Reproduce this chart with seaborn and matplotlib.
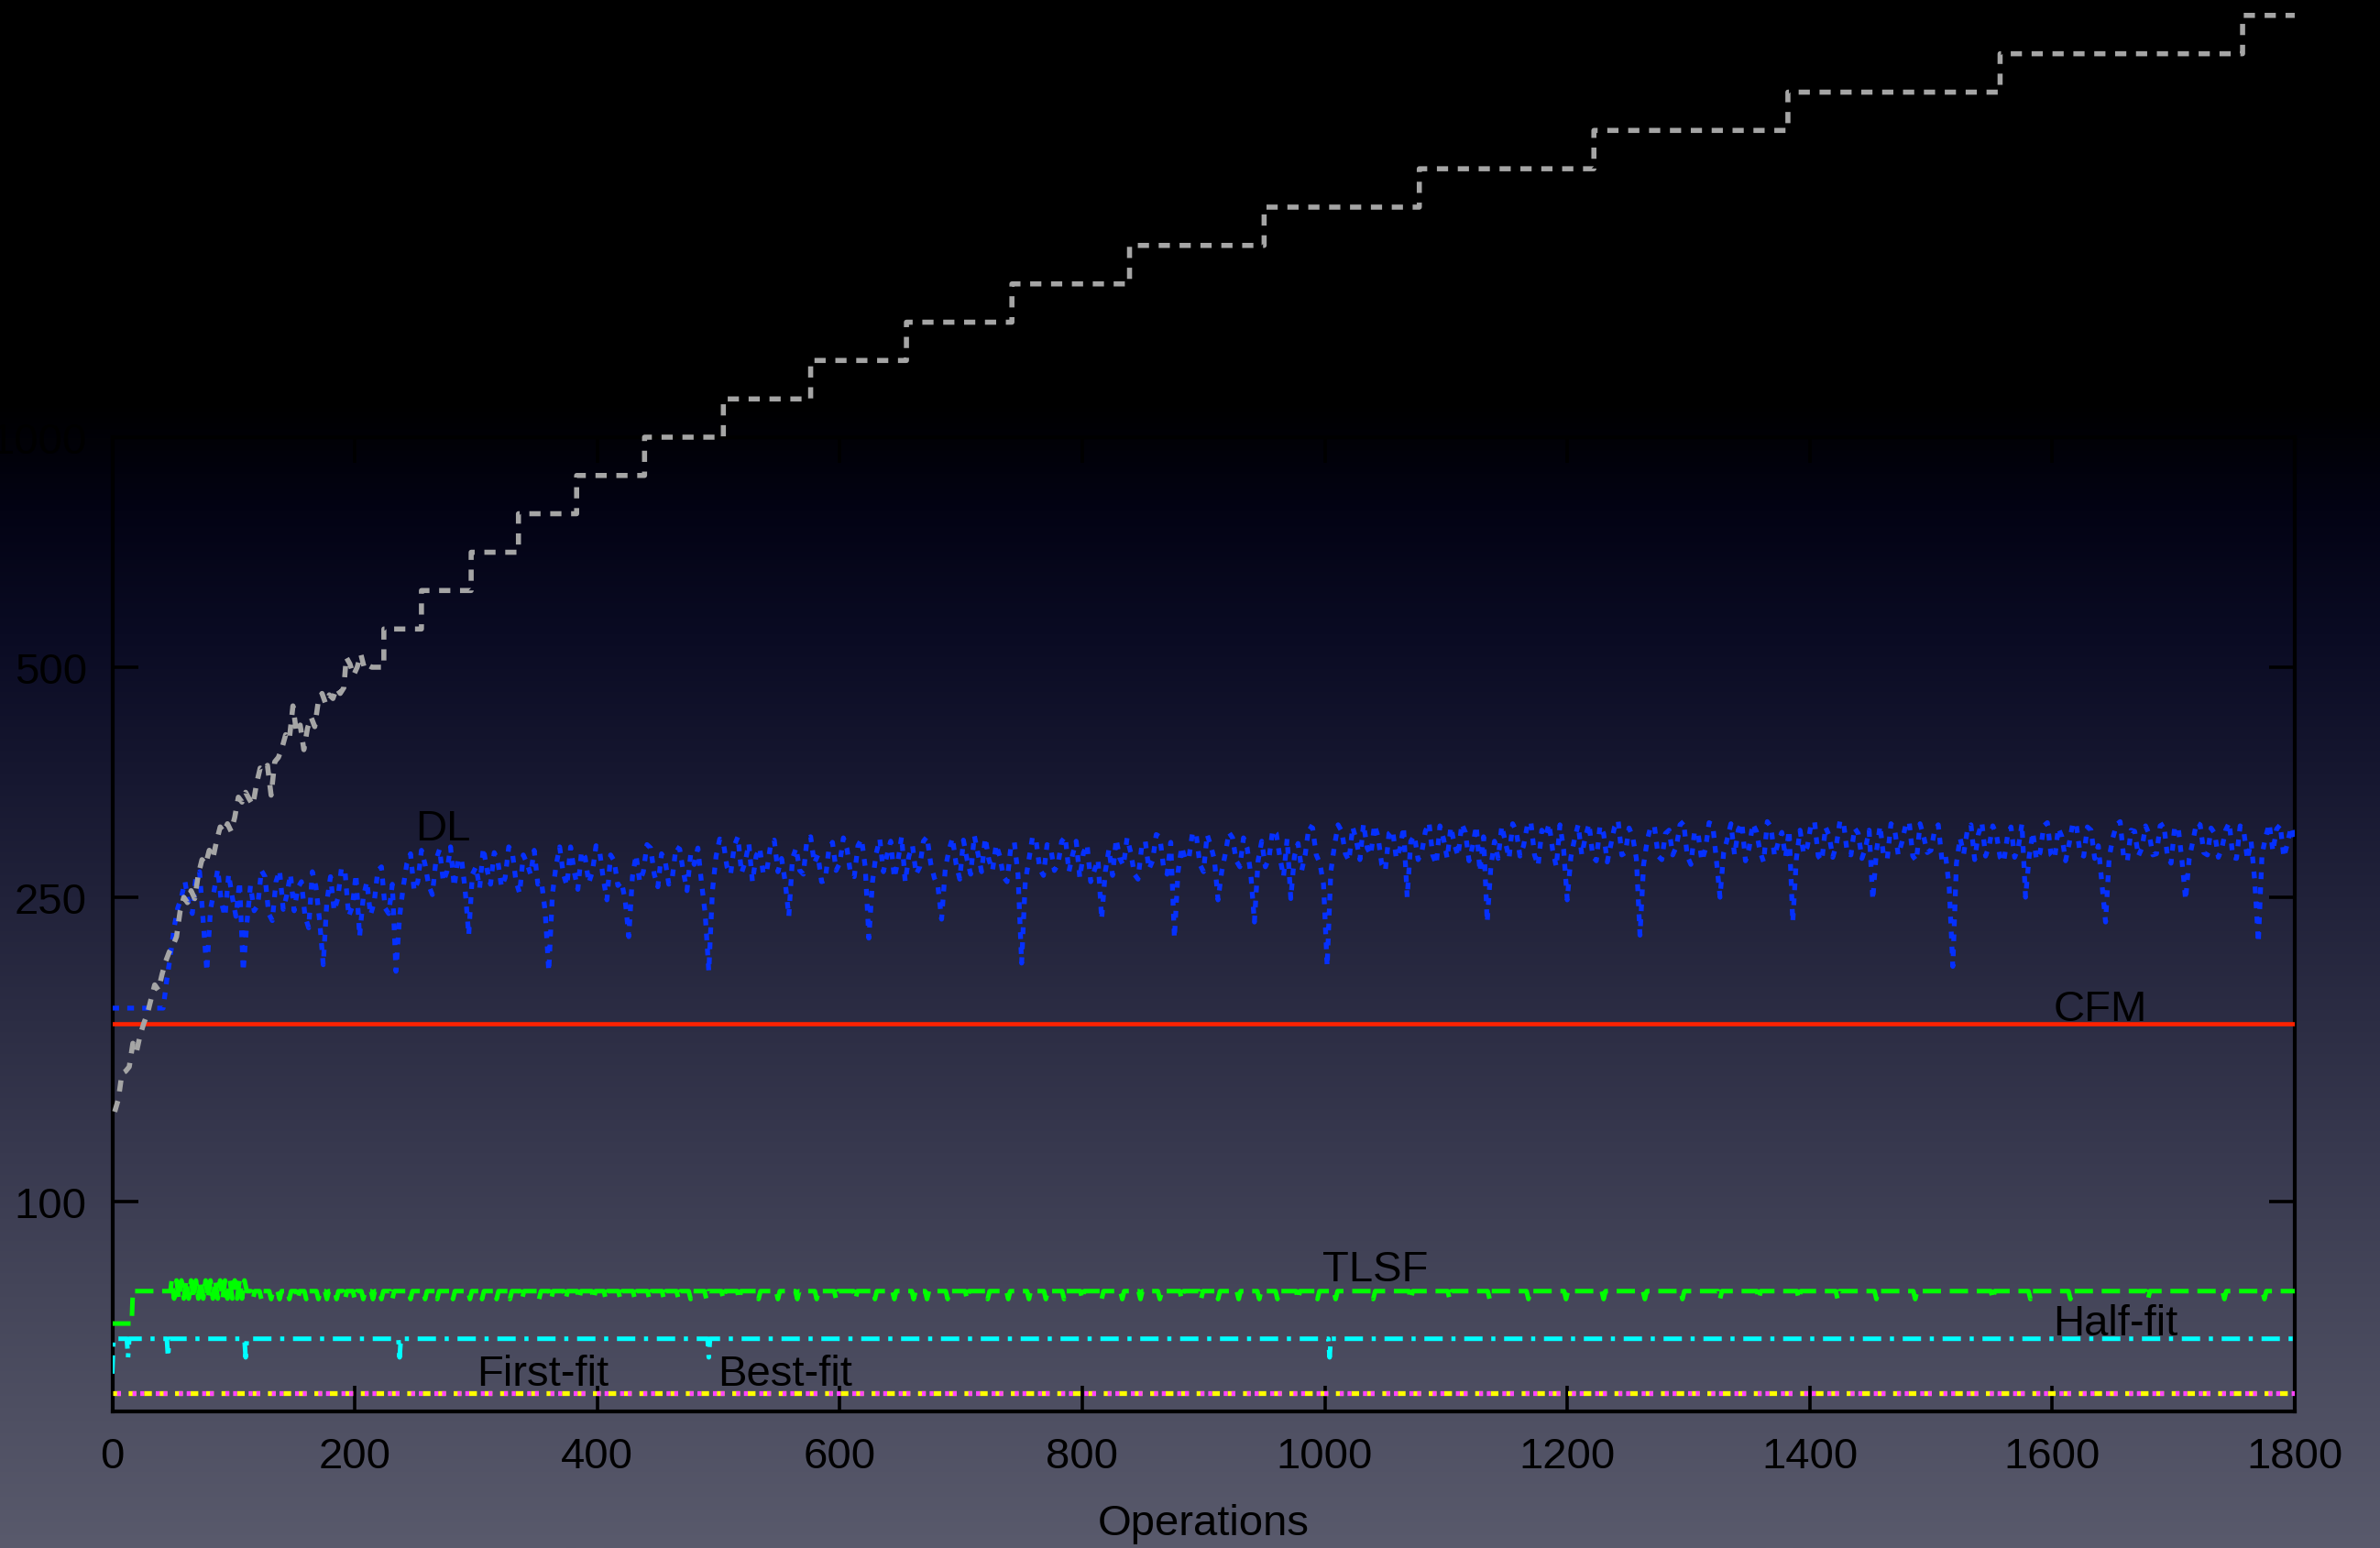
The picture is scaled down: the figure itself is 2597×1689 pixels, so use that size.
import numpy as np
import pandas as pd
import matplotlib
matplotlib.use("Agg")
import matplotlib.pyplot as plt
import seaborn as sns
from matplotlib.ticker import FixedLocator, FixedFormatter, NullLocator

# ---------------- data ----------------
x_ticks = [0, 200, 400, 600, 800, 1000, 1200, 1400, 1600, 1800]
y_ticks = [100, 250, 500, 1000]
y_tick_labels = ["100", "250", "500", "1000"]

# unlabelled grey series: noisy start, then a staircase
gray_early_ops = [2, 5, 8, 11, 14, 17, 20, 23, 26, 29, 32, 35, 38, 41, 44, 47, 50, 53, 56, 59,
                  62, 65, 68, 71, 74, 77, 80, 83, 86, 89, 92, 95, 98, 101, 104, 107, 110, 113,
                  116, 119, 122, 125, 128, 131, 134, 137, 140, 143, 146, 149, 152, 155, 158,
                  161, 164, 167, 170, 173, 176, 179, 182, 185, 188, 191, 193, 196, 199, 202,
                  205, 208, 211, 214]
gray_early_vals = [131, 136, 147, 148, 150, 161, 157, 165, 171, 176, 184, 192, 189, 198, 206, 212,
                   216, 222, 240, 250, 246, 255, 249, 268, 280, 276, 288, 281, 296, 309, 304, 312,
                   305, 318, 338, 333, 343, 336, 330, 352, 369, 366, 372, 340, 376, 381, 392, 408,
                   402, 445, 410, 420, 390, 416, 430, 418, 452, 462, 448, 460, 455, 470, 462, 470,
                   515, 505, 488, 500, 520, 498, 503, 500]
gray_step_ops = [224, 255, 296, 335, 383, 439, 504, 576, 655, 742, 839, 950, 1078, 1222, 1382,
                 1557, 1757]
gray_levels = [500, 561, 630, 707, 794, 891, 1000, 1122, 1260, 1414, 1587, 1782, 2000, 2245,
               2520, 2828, 3175, 3564]
gray_end_op = 1800

# DL (blue): values at operations 0, 6, 12, ... 1800
dl_step = 6
dl_vals = [
    179, 179, 179, 179, 179, 179, 179, 179, 210, 242,
    262, 238, 270, 200, 255, 246, 268, 236, 200, 259,
    244, 266, 233, 271, 252, 240, 262, 228, 258, 204,
    266, 249, 270, 243, 222, 262, 246, 274, 238, 200,
    258, 285, 262, 276, 252, 289, 270, 258, 281, 223,
    274, 290, 260, 279, 265, 286, 253, 277, 288, 262,
    200, 275, 268, 291, 256, 282, 270, 287, 248, 279,
    262, 222, 284, 270, 290, 258, 279, 266, 289, 255,
    276, 261, 200, 283, 295, 268, 300, 278, 262, 290,
    272, 297, 281, 236, 290, 268, 300, 284, 263, 295,
    277, 289, 266, 298, 221, 285, 270, 296, 279, 262,
    292, 274, 300, 265, 234, 288, 276, 297, 268, 285,
    299, 271, 283, 262, 295, 205, 280, 296, 267, 290,
    276, 300, 284, 265, 293, 271, 234, 289, 298, 275,
    286, 264, 296, 279, 300, 268, 221, 291, 282, 302,
    270, 292, 248, 285, 299, 274, 290, 232, 296, 281,
    303, 266, 249, 294, 285, 308, 277, 203, 292, 305,
    279, 297, 312, 284, 300, 271, 306, 289, 250, 301,
    286, 313, 276, 298, 309, 283, 304, 292, 270, 232,
    296, 310, 281, 305, 292, 314, 275, 300, 288, 311,
    248, 298, 284, 312, 279, 303, 293, 315, 286, 300,
    223, 297, 309, 280, 306, 291, 314, 276, 302, 289,
    311, 250, 298, 284, 313, 290, 305, 278, 309, 295,
    282, 232, 306, 291, 314, 279, 301, 293, 312, 284,
    303, 290, 248, 310, 281, 307, 295, 314, 279, 300,
    288, 311, 284, 203, 299, 306, 280, 313, 292, 302,
    278, 309, 290, 250, 304, 286, 313, 281, 300, 294,
    310, 283, 306, 292, 232, 299, 314, 279, 305, 290,
    302, 285, 312, 277, 308, 248, 296, 311, 284, 303,
    290, 313, 281, 305, 296, 218, 300, 287, 311, 294,
    298]
# DL (blue): values at operations 3, 9, 15, ... 1797
dl_mid_vals = [
    179, 179, 179, 179, 179, 179, 179, 195, 228, 250,
    245, 266, 232, 241, 272, 236, 250, 262, 231, 240,
    271, 238, 262, 241, 268, 257, 236, 270, 233, 247,
    240, 273, 236, 268, 250, 237, 271, 242, 260, 236,
    277, 255, 288, 259, 280, 262, 291, 279, 256, 268,
    257, 272, 286, 258, 291, 262, 284, 268, 260, 240,
    252, 291, 259, 270, 287, 261, 292, 264, 284, 259,
    248, 266, 262, 293, 268, 285, 260, 291, 270, 284,
    290, 238, 255, 298, 274, 292, 269, 294, 283, 268,
    293, 270, 262, 281, 271, 298, 277, 262, 289, 271,
    299, 268, 292, 274, 262, 298, 284, 265, 300, 283,
    268, 296, 277, 258, 272, 299, 264, 280, 301, 270,
    280, 293, 266, 290, 268, 262, 300, 272, 293, 271,
    296, 270, 296, 286, 262, 280, 270, 267, 281, 299,
    268, 291, 272, 302, 274, 295, 270, 280, 304, 276,
    302, 280, 270, 304, 279, 299, 268, 279, 274, 306,
    282, 298, 283, 271, 310, 284, 260, 270, 311, 285,
    309, 280, 290, 311, 276, 303, 281, 309, 296, 280,
    305, 284, 310, 281, 293, 312, 279, 310, 300, 274,
    281, 295, 312, 283, 310, 284, 306, 312, 274, 289,
    282, 311, 300, 283, 310, 278, 309, 284, 308, 281,
    276, 310, 283, 303, 284, 311, 283, 305, 279, 313,
    280, 286, 312, 306, 279, 312, 287, 314, 283, 304,
    306, 281, 285, 311, 283, 309, 282, 315, 285, 308,
    281, 306, 287, 282, 312, 284, 310, 283, 312, 286,
    306, 280, 258, 277, 285, 311, 302, 283, 310, 282,
    300, 282, 312, 283, 280, 310, 284, 308, 279, 313,
    285, 309, 281, 260, 282, 311, 281, 306, 283, 310,
    284, 310, 283, 309, 279, 281, 313, 286, 308, 282,
    306, 282, 310, 280, 263, 284, 312, 307, 282, 309]

# CFM (red), constant
cfm_ops = [0, 1800]
cfm_vals = [171, 171]

# TLSF (green)
tlsf_start_ops = [0, 16, 17, 48]
tlsf_start_vals = [69.2, 69.2, 76.3, 76.3]
tlsf_osc_ops = [49, 51, 53, 55, 57, 59, 61, 63, 65, 67, 69, 71, 73, 75, 77, 79, 81, 83, 85, 87,
                89, 91, 93, 95, 97, 99, 101, 103, 105, 107, 109, 111]
tlsf_osc_vals = [78.8, 74.6, 78.8, 74.6, 78.8, 74.6, 78.8, 74.6, 78.8, 74.6, 78.8, 74.6, 78.8,
                 74.6, 78.8, 74.6, 78.8, 74.6, 78.8, 74.6, 78.8, 74.6, 78.8, 74.6, 78.8, 74.6,
                 78.8, 74.6, 78.8, 74.6, 78.8, 76.3]
tlsf_level = 76.3
tlsf_dip_level = 74.5
tlsf_dips = [116, 123, 131, 138, 146, 153, 160, 170, 177, 185, 192, 200, 207, 215, 222, 231, 246,
             258, 268, 281, 295, 305, 317, 328, 338, 352, 362, 374, 385, 397, 407, 419, 431, 443,
             455, 467, 477, 490, 504, 517, 533, 549, 565, 581, 597, 613, 629, 645, 661, 672, 689,
             705, 722, 739, 756, 770, 785, 800, 816, 833, 848, 864, 882, 898, 912, 929, 946, 961,
             978, 994, 1009, 1040, 1071, 1103, 1136, 1168, 1199, 1230, 1264, 1295, 1326, 1358,
             1391, 1423, 1455, 1487, 1551, 1582, 1615, 1679, 1742, 1775]
tlsf_end_op = 1800

# Half-fit (cyan)
half_start = (0, 59.5)
half_level = 66.1
half_dip_level = 62.5
half_dips = [13, 46, 110, 237, 492, 1004]
half_end_op = 1800

# First-fit (magenta) and Best-fit (yellow), constant
ff_ops = [0, 1800]
ff_vals = [56.1, 56.1]
bf_ops = [0, 1800]
bf_vals = [56.1, 56.1]

# series labels (x, baseline y)
labels = ["DL", "CFM", "TLSF", "Half-fit", "First-fit", "Best-fit"]
label_x = [273, 1640, 1042, 1652, 355, 555]
label_y = [297.6, 172.5, 78.9, 67.0, 57.5, 57.5]

# ---------------- build tables ----------------
gx, gy = list(gray_early_ops), list(gray_early_vals)
gx.append(gray_step_ops[0]); gy.append(gray_levels[0])
for i, op in enumerate(gray_step_ops):
    if i > 0:
        gx.append(op); gy.append(gray_levels[i])
    gx.append(op); gy.append(gray_levels[i + 1])
gx.append(gray_end_op); gy.append(gray_levels[-1])
gray_df = pd.DataFrame({"op": gx, "val": gy})

dx, dy = [], []
for i, v in enumerate(dl_vals):
    dx.append(i * dl_step); dy.append(v)
    if i < len(dl_mid_vals):
        dx.append(i * dl_step + dl_step / 2); dy.append(dl_mid_vals[i])
dl_df = pd.DataFrame({"op": dx, "val": dy})

tx = list(tlsf_start_ops) + list(tlsf_osc_ops)
ty = list(tlsf_start_vals) + list(tlsf_osc_vals)
for d in tlsf_dips:
    tx += [d - 1.6, d, d + 1.6]
    ty += [tlsf_level, tlsf_dip_level, tlsf_level]
tx.append(tlsf_end_op); ty.append(tlsf_level)
tlsf_df = pd.DataFrame({"op": tx, "val": ty})

hx, hy = [half_start[0], 1], [half_start[1], half_level]
for d in half_dips:
    hx += [d - 1.0, d, d + 1.0]
    hy += [half_level, half_dip_level, half_level]
hx.append(half_end_op); hy.append(half_level)
half_df = pd.DataFrame({"op": hx, "val": hy})

cfm_df = pd.DataFrame({"op": cfm_ops, "val": cfm_vals})
ff_df = pd.DataFrame({"op": ff_ops, "val": ff_vals})
bf_df = pd.DataFrame({"op": bf_ops, "val": bf_vals})

# ---------------- figure ----------------
sns.set_style("ticks")
plt.rcParams["font.family"] = ["Liberation Sans", "DejaVu Sans"]

W, H, DPI = 2597, 1690, 100
fig = plt.figure(figsize=(W / DPI, H / DPI), dpi=DPI)
fig.patch.set_facecolor("black")

# background gradient
stops_f = [0.0, 0.26, 0.33, 0.41, 0.50, 0.58, 0.66, 0.745, 0.83, 0.91, 1.0]
stops_c = [(0, 0, 0), (0, 0, 0), (3, 3, 20), (10, 11, 35), (22, 23, 48), (33, 34, 58),
           (44, 45, 68), (56, 57, 79), (68, 69, 89), (78, 79, 98), (89, 90, 108)]
rows = np.linspace(0, 1, H)
grad = np.zeros((H, 1, 3))
for c in range(3):
    grad[:, 0, c] = np.interp(rows, stops_f, [s[c] for s in stops_c]) / 255.0
bg = fig.add_axes([0, 0, 1, 1], zorder=-10)
bg.imshow(grad, aspect="auto", extent=[0, 1, 0, 1], interpolation="bilinear")
bg.set_axis_off()

ax = fig.add_axes([0.04717, 0.08817, 0.91700, 0.62900])
ax.set_facecolor("none")
ax.set_yscale("log")

common = dict(x="op", y="val", estimator=None, sort=False, errorbar=None, ax=ax, legend=False)
sns.lineplot(data=bf_df, color="#ffff00", lw=3.8, linestyle=(0, (1.6, 1.6)), zorder=3, **common)
sns.lineplot(data=ff_df, color="#ff44ff", lw=3.8, linestyle=(0.8, (0.8, 0.8, 0.8, 2.4)), zorder=4, **common)
sns.lineplot(data=half_df, color="#00ffff", lw=3.6, linestyle=(0, (4.0, 1.9, 0.9, 1.9)), zorder=5, **common)
sns.lineplot(data=tlsf_df, color="#00ff00", lw=3.6, linestyle=(0, (4.0, 1.9)), zorder=6, **common)
sns.lineplot(data=cfm_df, color="#ff2200", lw=3.3, linestyle="-", zorder=7, **common)
sns.lineplot(data=dl_df, color="#0530ff", lw=3.8, linestyle=(0, (1.4, 1.7)), zorder=8, **common)
sns.lineplot(data=gray_df, color="#a5a5a5", lw=4.0, linestyle=(0, (2.2, 1.9)), zorder=9,
             clip_on=False, **common)

ax.set_xlim(0, 1800)
ax.set_ylim(53.1, 1000)
ax.xaxis.set_major_locator(FixedLocator(x_ticks))
ax.yaxis.set_major_locator(FixedLocator(y_ticks))
ax.yaxis.set_major_formatter(FixedFormatter(y_tick_labels))
ax.yaxis.set_minor_locator(NullLocator())
ax.xaxis.set_minor_locator(NullLocator())

for s in ax.spines.values():
    s.set_visible(True)
    s.set_color("black")
    s.set_linewidth(3.0)
ax.tick_params(which="major", direction="in", length=20, width=2.6, color="black",
               top=True, right=True, labelsize=34, labelcolor="black")
ax.tick_params(axis="x", pad=19.5)
ax.tick_params(axis="y", pad=20)
ax.set_xlabel("Operations", fontsize=34, color="black", labelpad=21)
ax.set_ylabel("")

for t, x, y in zip(labels, label_x, label_y):
    ax.text(x, y, t, fontsize=34, color="black", ha="center", va="baseline", zorder=12)

fig.savefig("out.png", dpi=DPI, facecolor=fig.get_facecolor())
